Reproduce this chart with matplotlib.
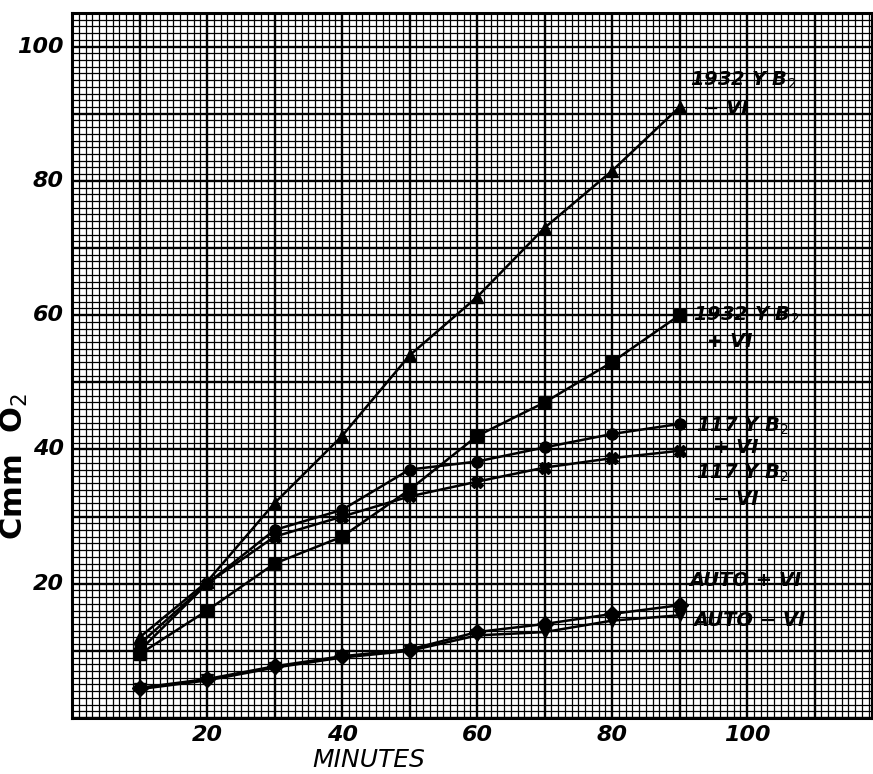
import numpy as np
import matplotlib.pyplot as plt
from matplotlib.ticker import MultipleLocator

# readings taken every 10 minutes
minutes = [10, 20, 30, 40, 50, 60, 70, 80, 90]

b2_1932_minus = [12, 20.3, 32, 42, 54, 62.7, 73, 81.5, 91]
b2_1932_plus = [9.5, 16, 23, 27, 34, 42, 47, 53, 60]
b2_117_plus = [11, 20, 28, 31, 37, 38.2, 40.3, 42.3, 43.8]
b2_117_minus = [10, 20, 27, 30, 33, 35.2, 37.3, 38.7, 39.8]
auto_plus = [4.5, 5.8, 7.7, 9.2, 10.2, 12.8, 14, 15.5, 16.8]
auto_minus = [4.3, 5.6, 7.5, 9.0, 10.0, 12.3, 12.8, 14.5, 15.3]

x_ticks = [20, 40, 60, 80, 100]
y_ticks = [20, 40, 60, 80, 100]

hand = dict(fontfamily="DejaVu Sans", fontweight="bold", fontstyle="italic", color="black")

fig = plt.figure(figsize=(8.73, 7.74), dpi=100)
ax = fig.add_axes([72 / 873, 1 - 718 / 774, 800 / 873, 705 / 774])

ax.set_xlim(0, 118.5)
ax.set_ylim(0, 105)

# graph paper
ax.xaxis.set_major_locator(MultipleLocator(10))
ax.yaxis.set_major_locator(MultipleLocator(10))
ax.xaxis.set_minor_locator(MultipleLocator(1))
ax.yaxis.set_minor_locator(MultipleLocator(1))
ax.grid(which="minor", color="black", lw=0.9)
ax.grid(which="major", color="black", lw=1.7)
ax.set_axisbelow(True)
ax.tick_params(which="both", length=0, labelleft=False, labelbottom=False)
for s in ax.spines.values():
    s.set_linewidth(2.2)

series = [
    (b2_1932_minus, "^"),
    (b2_1932_plus, "s"),
    (b2_117_plus, "o"),
    (b2_117_minus, "X"),
    (auto_plus, "D"),
    (auto_minus, "v"),
]
for vals, m in series:
    ax.plot(minutes, vals, color="black", lw=1.8, marker=m, ms=8, zorder=3)

# hand written tick labels
for t in x_ticks:
    ax.text(t, -2.5, str(t), ha="center", va="center", fontsize=16, **hand)
for t in y_ticks:
    ax.text(-1.2, t, str(t), ha="right", va="center", fontsize=16, **hand)

ax.text(44, -6.3, "MINUTES", ha="center", va="center", fontsize=18,
        fontfamily="DejaVu Sans", fontstyle="italic", color="black")
ax.text(-8.5, 37.5, "Cmm  O$_2$", ha="center", va="center", rotation=90, fontsize=22,
        fontfamily="DejaVu Sans", fontweight="bold", color="black")

# curve labels
lab = dict(fontsize=14, ha="left", va="center", zorder=4, **hand)
ax.text(91.5, 95, "1932 Y B$_2$", **lab)
ax.text(93.5, 90.8, "\u2212 VI", **lab)
ax.text(92, 60, "1932 Y B$_2$", **lab)
ax.text(94, 56, "+ VI", **lab)
ax.text(92.5, 43.5, "117 Y B$_2$", **lab)
ax.text(95, 40.3, "+ VI", **lab)
ax.text(92.5, 36.5, "117 Y B$_2$", **lab)
ax.text(95, 32.5, "\u2212 VI", **lab)
ax.text(91.5, 20.5, "AUTO + VI", **lab)
ax.text(92, 14.5, "AUTO \u2212 VI", **lab)

fig.savefig("out.png", dpi=100)
